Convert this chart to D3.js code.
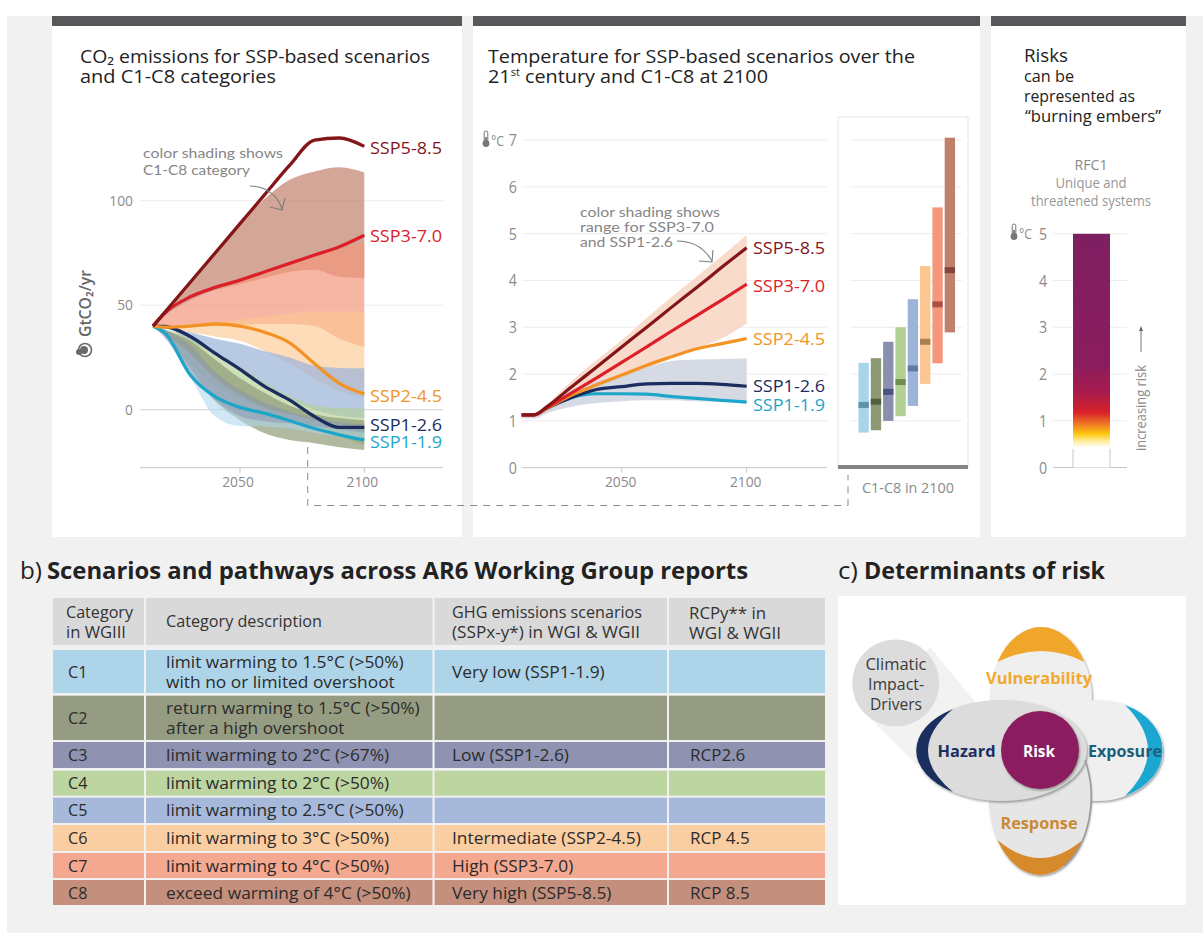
<!DOCTYPE html>
<html><head><meta charset="utf-8">
<script src="https://cdnjs.cloudflare.com/ajax/libs/d3/7.8.5/d3.min.js"></script>
<style>html,body{margin:0;padding:0;background:#fff}svg{display:block}text{font-family:"Open Sans",sans-serif}</style>
</head><body><div id="c"></div>
<script>
// ---------- data ----------
const emisYears=[2015,2020,2030,2040,2050,2060,2070,2080,2090,2100];
const ssp585=[40,47,61,75,89,103,117,129,130,126];
const ssp370=[40,46.5,54,58.5,62,66,70,74,78,83.5];
const ssp245=[40,39.5,40,41,40,37,32,22,12.6,7.5];
const ssp126=[40,39.8,35,27,19.3,11,4.6,-3.3,-8.5,-8.5];
const ssp119=[40,36.5,16.6,6.2,1.1,-1.8,-5.3,-9,-12,-14.5];
const c8Up=[40,47,61,75,89,101,110,114,116,113.5], c8Lo=[40,45,52,57,60,63,66,67,63.6,63];
const c7Up=[40,45,52,57,61,65,69,73,77,80],        c7Lo=[40,39.8,39.5,40,40.5,41,41,40,34,30];
const c6Up=[40,40,40.5,41.5,43,44.5,46,47,47,47],  c6Lo=[40,39,37,35,33,28,22,15,9,6];
const c5Up=[40,39.5,37,34,31.5,28,25,21,20,19.8],  c5Lo=[40,39,33,26,19,11.5,5,0,-3,-4];
const c4Up=[40,38.5,34,27.5,20.5,13,6.5,2,0.8,0.6],c4Lo=[40,35,22,12,5,0,-5,-9,-13,-17];
const c3Up=[40,38,31,18,9.4,3.5,-1,-4,-6,-7],      c3Lo=[40,34,17,4.6,-3,-5.5,-6.5,-8,-9.5,-11];
const c2Up=[40,38,33,24,15,8,2,-2,-4,-5],          c2Lo=[40,35,20,4,-5,-11.3,-14.5,-16,-18,-19.3];
const c1Up=[40,36,27,15,7,1,-2,-5,-7,-10],         c1Lo=[40,35,15.8,-3.3,-7.8,-8,-9,-11,-13,-15];
const tempYears=[2010,2015,2020,2030,2040,2050,2060,2070,2080,2090,2100];
const t585=[1.13,1.13,1.3,1.73,2.15,2.58,3.0,3.43,3.85,4.28,4.7];
const t370=[1.13,1.13,1.28,1.6,1.92,2.25,2.58,2.92,3.25,3.58,3.92];
const t245=[1.13,1.13,1.27,1.55,1.77,1.98,2.19,2.37,2.54,2.65,2.76];
const t126=[1.13,1.13,1.27,1.5,1.67,1.73,1.79,1.8,1.8,1.78,1.74];
const t119=[1.13,1.13,1.27,1.5,1.58,1.58,1.57,1.52,1.48,1.44,1.4];
const rangeHighUp=[1.05,1.05,1.33,1.85,2.3,2.72,3.2,3.65,4.08,4.52,4.97];
const rangeHighLo=[1.05,1.05,1.2,1.45,1.7,1.9,2.12,2.35,2.55,2.76,3.08];
const rangeLowUp=[1.13,1.13,1.28,1.66,1.85,1.98,2.14,2.28,2.31,2.32,2.33];
const rangeLowLo=[1.05,1.05,1.16,1.3,1.38,1.42,1.44,1.44,1.42,1.41,1.41];
const categories=["C1","C2","C3","C4","C5","C6","C7","C8"];
const catTop=[2.24,2.34,2.69,3.0,3.6,4.31,5.56,7.05];
const catBottom=[0.75,0.8,1.0,1.1,1.32,1.79,2.23,2.89];
const catMedian=[1.34,1.41,1.62,1.83,2.12,2.69,3.49,4.22];
const catColors=["#a9d5ec","#8c9a74","#8a8fb0","#b3d094","#9db4da","#fbc68f","#f4977c","#c0806c"];
const catMedColors=["#5f93a8","#4c5f40","#4a5480","#6f8f50","#5f7ba5","#a87f50","#a8524a","#85443e"];
const descriptions=[["limit warming to 1.5°C (>50%)","with no or limited overshoot"],["return warming to 1.5°C (>50%)","after a high overshoot"],["limit warming to 2°C (>67%)"],["limit warming to 2°C (>50%)"],["limit warming to 2.5°C (>50%)"],["limit warming to 3°C (>50%)"],["limit warming to 4°C (>50%)"],["exceed warming of 4°C (>50%)"]];
const scenarioNames=["Very low (SSP1-1.9)","","Low (SSP1-2.6)","","","Intermediate (SSP2-4.5)","High (SSP3-7.0)","Very high (SSP5-8.5)"];
const rcpNames=["","","RCP2.6","","","RCP 4.5","","RCP 8.5"];
const tableColors=["#aed4e9","#959c81","#8f93b1","#bcd5a1","#a7b9da","#fbcea2","#f4a890","#c48f7d"];
const emberLevels=[0.42,0.55,0.72,0.92,1.18,1.6,2.2,5];
const emberColors=["#ffffff","#fff0a8","#fdc80f","#f07d23","#d92029","#a81b4c","#8b1d5e","#7e1f62"];

// ---------- helpers ----------
const W=1203,H=933;
const svg=d3.select("#c").append("svg").attr("width",W).attr("height",H);
svg.append("rect").attr("x",7).attr("y",16).attr("width",W-7).attr("height",H-16).attr("fill","#f1f1f1");
function T(x,y,s,o={}){
  const t=(o.g||svg).append("text").attr("x",x).attr("y",y).text(s)
    .attr("font-size",o.size||15).attr("fill",o.fill||"#222")
    .attr("text-anchor",o.anchor||"start").attr("font-weight",o.weight||400);
  if(o.font)t.style("font-family",o.font);
  if(o.w)t.attr("textLength",o.w).attr("lengthAdjust","spacingAndGlyphs");
  if(o.k){const n=t.node().getComputedTextLength();t.attr("textLength",n*o.k).attr("lengthAdjust","spacingAndGlyphs");}
  if(o.rot)t.attr("transform",`rotate(${o.rot} ${x} ${y})`);
  return t;
}
[[52,462],[473,980],[991,1186]].forEach(([a,b])=>{
  svg.append("rect").attr("x",a).attr("y",16).attr("width",b-a).attr("height",521).attr("fill","#fff");
  svg.append("rect").attr("x",a).attr("y",16).attr("width",b-a).attr("height",10).attr("fill","#58585b");
});
const GREY="#8b8b8b", GRID="#ececec", AX="#c4c4c4";
function thermo(x,y){
  const g=svg.append("g").attr("transform",`translate(${x},${y})`);
  g.append("rect").attr("x",-1.8).attr("y",-9).attr("width",3.6).attr("height",11).attr("rx",1.8).attr("fill","#fff").attr("stroke","#777").attr("stroke-width",1);
  g.append("circle").attr("cx",0).attr("cy",3.5).attr("r",3.4).attr("fill","#777");
  g.append("rect").attr("x",-0.9).attr("y",-3).attr("width",1.8).attr("height",5).attr("fill","#777");
}
function arrow(path,head){
  svg.append("path").attr("d",path).attr("fill","none").attr("stroke","#7d7d7d").attr("stroke-width",1.1);
  svg.append("path").attr("d",head).attr("fill","none").attr("stroke","#7d7d7d").attr("stroke-width",1.1);
}
const HAND='Lato,"Open Sans",sans-serif';

// ---------- titles ----------
T(80,63,"CO₂ emissions for SSP-based scenarios",{size:18,w:350});
T(80,83,"and C1-C8 categories",{size:18,w:196});
T(488,63,"Temperature for SSP-based scenarios over the",{size:18,w:427});
const t21=svg.append("text").attr("x",488).attr("y",83).attr("font-size",18).attr("fill","#222")
  .attr("textLength",280).attr("lengthAdjust","spacingAndGlyphs");
t21.append("tspan").text("21");
t21.append("tspan").attr("dy",-7).attr("font-size",10).text("st");
t21.append("tspan").attr("dy",7).text(" century and C1-C8 at 2100");
T(1024,62,"Risks",{size:17.5,w:44});
T(1024,82,"can be",{size:16.5,w:50});
T(1024,102,"represented as",{size:16.5,w:111});
T(1025,122,"“burning embers”",{size:16.5,w:136});

// ---------- panel a: emissions ----------
const xE=d3.scaleLinear().domain([2050,2100]).range([240,364.3]);
const yE=d3.scaleLinear().domain([0,100]).range([409.7,200.7]);
const yEBase=467.7;
svg.selectAll(".ge").data([100,50,0]).join("line").attr("x1",140).attr("x2",443)
  .attr("y1",d=>yE(d)).attr("y2",d=>yE(d)).attr("stroke",d=>d===0?"#d2d2d2":GRID);
svg.append("line").attr("x1",140).attr("x2",443).attr("y1",yEBase).attr("y2",yEBase).attr("stroke",AX);
[100,50,0].forEach(d=>T(133,yE(d)+5,d,{anchor:"end",fill:GREY,size:15,k:.92}));
[2050,2100].forEach(d=>{
  svg.append("line").attr("x1",xE(d)).attr("x2",xE(d)).attr("y1",yEBase).attr("y2",yEBase+5).attr("stroke",AX);
  T(xE(d)-2,487,d,{anchor:"middle",fill:GREY,size:15,k:.92});
});
const idxE=emisYears.map((_,i)=>i);
const areaE=(u,l)=>d3.area().x(i=>xE(emisYears[i])).y0(i=>yE(l[i])).y1(i=>yE(u[i])).curve(d3.curveMonotoneX)(idxE);
[[c8Up,c8Lo,7,.7],[c7Up,c7Lo,6,.7],[c6Up,c6Lo,5,.62],[c5Up,c5Lo,4,.72],[c4Up,c4Lo,3,.65],[c2Up,c2Lo,1,.68],[c1Up,c1Lo,0,.55],[c3Up,c3Lo,2,.5]]
 .forEach(([u,l,c,op])=>svg.append("path").attr("d",areaE(u,l)).attr("fill",catColors[c]).attr("fill-opacity",op));
const lineE=d3.line().x((d,i)=>xE(emisYears[i])).y(d=>yE(d)).curve(d3.curveMonotoneX);
const lines=[[ssp119,"#1ea6c9","SSP1-1.9"],[ssp126,"#1b2d5e","SSP1-2.6"],[ssp245,"#f39325","SSP2-4.5"],[ssp370,"#dd2027","SSP3-7.0"],[ssp585,"#84161a","SSP5-8.5"]];
lines.forEach(([v,c])=>svg.append("path").attr("d",lineE(v)).attr("fill","none").attr("stroke",c).attr("stroke-width",3.3).attr("stroke-linejoin","round"));
const labE={"SSP5-8.5":154,"SSP3-7.0":242,"SSP2-4.5":402,"SSP1-2.6":431,"SSP1-1.9":448};
lines.forEach(([v,c,n])=>T(370,labE[n],n,{fill:c,size:16,w:72}));
T(143,158,"color shading shows",{fill:"#868686",size:13.5,w:140,font:HAND});
T(143,175,"C1-C8 category",{fill:"#868686",size:13.5,w:107,font:HAND});
arrow("M250,186 C266,186 278,196 282,209","M270,207 L282,210 L285,198");
T(91,337,"GtCO₂/yr",{fill:"#666",size:16,weight:600,rot:-90,w:67});
const ic=svg.append("g").attr("transform","translate(83,350)");
ic.append("circle").attr("cx",2).attr("cy",0).attr("r",6.5).attr("fill","#fff").attr("stroke","#6a6a6a").attr("stroke-width",1.6);
ic.append("circle").attr("cx",1).attr("cy",0).attr("r",4).attr("fill","#6a6a6a");
ic.append("circle").attr("cx",-4).attr("cy",2).attr("r",3).attr("fill","#6a6a6a");
svg.append("path").attr("d","M307.7,447 V505.5 H848 V475").attr("fill","none").attr("stroke","#8a8a8a").attr("stroke-width",1).attr("stroke-dasharray","7 6");

// ---------- panel a: temperature ----------
const xT=d3.scaleLinear().domain([2050,2100]).range([621.7,746.7]);
const yT=d3.scaleLinear().domain([0,7]).range([467.7,140]);
d3.range(1,8).forEach(d=>svg.append("line").attr("x1",522).attr("x2",827).attr("y1",yT(d)).attr("y2",yT(d)).attr("stroke",GRID));
svg.append("line").attr("x1",522).attr("x2",827).attr("y1",yT(0)).attr("y2",yT(0)).attr("stroke",AX);
d3.range(0,8).forEach(d=>T(517,yT(d)+6,d,{anchor:"end",fill:GREY,size:15.5,k:.92}));
thermo(486,140); T(491,146,"°C",{fill:GREY,size:14,w:13});
[2050,2100].forEach(d=>{
  svg.append("line").attr("x1",xT(d)).attr("x2",xT(d)).attr("y1",yT(0)).attr("y2",yT(0)+5).attr("stroke",AX);
  T(xT(d)-1,487,d,{anchor:"middle",fill:GREY,size:15,k:.92});
});
const idxT=tempYears.map((_,i)=>i);
const areaT=(u,l)=>d3.area().x(i=>xT(tempYears[i])).y0(i=>yT(l[i])).y1(i=>yT(u[i])).curve(d3.curveMonotoneX)(idxT);
svg.append("path").attr("d",areaT(rangeHighUp,rangeHighLo)).attr("fill","#f8d5c3").attr("fill-opacity",.85);
svg.append("path").attr("d",areaT(rangeLowUp,rangeLowLo)).attr("fill","#cfd4e1").attr("fill-opacity",.85);
const lineT=d3.line().x((d,i)=>xT(tempYears[i])).y(d=>yT(d)).curve(d3.curveMonotoneX);
const tLines=[[t119,"#1ea6c9","SSP1-1.9",411],[t126,"#1b2d5e","SSP1-2.6",392],[t245,"#f39325","SSP2-4.5",345],[t370,"#dd2027","SSP3-7.0",292],[t585,"#84161a","SSP5-8.5",254]];
tLines.forEach(([v,c])=>svg.append("path").attr("d",lineT(v)).attr("fill","none").attr("stroke",c).attr("stroke-width",3.2));
tLines.forEach(([v,c,n,y])=>T(753,y,n,{fill:c,size:16,w:72}));
T(580,217,"color shading shows",{fill:"#868686",size:13.5,w:140,font:HAND});
T(580,232,"range for SSP3-7.0",{fill:"#868686",size:13.5,w:134,font:HAND});
T(580,247,"and SSP1-2.6",{fill:"#868686",size:13.5,w:93,font:HAND});
arrow("M677,241 C695,241 705,249 712,261","M699,261 L712,262 L713,250");

// C1-C8 card
svg.append("rect").attr("x",838).attr("y",117).attr("width",130).attr("height",350).attr("fill","#fff").attr("stroke","#eeeeee").attr("stroke-width",1.5);
d3.range(1,8).forEach(d=>svg.append("line").attr("x1",850).attr("x2",962).attr("y1",yT(d)).attr("y2",yT(d)).attr("stroke",GRID));
const xC=d3.scaleBand().domain(categories).range([856.5,957]).padding(0.16);
svg.selectAll(".bar").data(categories).join("rect").attr("x",d=>xC(d)).attr("width",xC.bandwidth())
  .attr("y",(d,i)=>yT(catTop[i])).attr("height",(d,i)=>yT(catBottom[i])-yT(catTop[i])).attr("fill",(d,i)=>catColors[i]);
svg.selectAll(".med").data(categories).join("rect").attr("x",d=>xC(d)).attr("width",xC.bandwidth())
  .attr("y",(d,i)=>yT(catMedian[i])-3).attr("height",6).attr("fill",(d,i)=>catMedColors[i]);
svg.append("rect").attr("x",838).attr("y",465).attr("width",130).attr("height",4).attr("fill","#858585");
T(862,493,"C1-C8 in 2100",{fill:GREY,size:15,w:92});

// ---------- embers ----------
const yR=d3.scaleLinear().domain([0,5]).range([467.5,233.8]);
T(1091,170,"RFC1",{anchor:"middle",fill:"#8a8a8a",size:15,w:33});
T(1091,188,"Unique and",{anchor:"middle",fill:"#979797",size:14.5,w:71});
T(1091,206,"threatened systems",{anchor:"middle",fill:"#979797",size:14.5,w:120});
d3.range(0,6).forEach(d=>{
  svg.append("line").attr("x1",1053).attr("x2",1127).attr("y1",yR(d)).attr("y2",yR(d)).attr("stroke",d?GRID:AX);
  T(1043,yR(d)+6,d,{anchor:"middle",fill:GREY,size:15.5,k:.92});
});
thermo(1014,233); T(1019,239,"°C",{fill:GREY,size:14,w:13});
const defs=svg.append("defs");
const grad=defs.append("linearGradient").attr("id","ember").attr("gradientUnits","userSpaceOnUse")
  .attr("x1",0).attr("x2",0).attr("y1",yR(0)).attr("y2",yR(5));
emberLevels.forEach((v,i)=>grad.append("stop").attr("offset",v/5).attr("stop-color",emberColors[i]));
svg.append("rect").attr("x",1073).attr("width",37).attr("y",yR(5)).attr("height",yR(0)-yR(5)).attr("fill","url(#ember)");
svg.append("path").attr("d",`M1073,${yR(.4)} V${yR(0)} M1110,${yR(.4)} V${yR(0)}`).attr("stroke","#c9c9c9").attr("fill","none");
T(1146,451,"increasing risk",{fill:GREY,size:14,rot:-90,w:86});
svg.append("line").attr("x1",1141).attr("x2",1141).attr("y1",352).attr("y2",328).attr("stroke","#777");
svg.append("path").attr("d","M1139,331 L1141,326 L1143,331 Z").attr("fill","#666");

// ---------- panel b ----------
T(20,579,"b)",{size:23,w:22,fill:"#222"});
T(47,579,"Scenarios and pathways across AR6 Working Group reports",{size:23,weight:700,w:701});
const colEdges=[[53,144],[146,432.5],[434.6,667],[669,825]];
const rowEdges=[[650,693],[695.7,740],[742,768],[770.7,795.7],[797.7,823],[825,851],[853,878],[880,905]];
colEdges.forEach(([a,b])=>svg.append("rect").attr("x",a).attr("width",b-a).attr("y",598).attr("height",47).attr("fill","#d9d9d9"));
const ts=17, hs=16.5;
T(66,618,"Category",{size:hs,fill:"#333",w:67});T(66,638,"in WGIII",{size:hs,fill:"#333",w:60});
T(166,627,"Category description",{size:hs,fill:"#333",w:156});
T(452,618,"GHG emissions scenarios",{size:hs,fill:"#333",w:190});T(452,638,"(SSPx-y*) in WGI & WGII",{size:hs,fill:"#333",w:188});
T(689,619,"RCPy** in",{size:hs,fill:"#333",w:77});T(689,639,"WGI & WGII",{size:hs,fill:"#333",w:92});
categories.forEach((c,i)=>{
  const [a,b]=rowEdges[i], mid=(a+b)/2;
  colEdges.forEach(([l,r])=>svg.append("rect").attr("x",l).attr("width",r-l).attr("y",a).attr("height",b-a).attr("fill",tableColors[i]));
  T(68,mid+6,c,{size:ts,fill:"#2b2b2b",k:.95});
  const d=descriptions[i];
  if(d.length===1)T(166,mid+6,d[0],{size:ts,fill:"#2b2b2b",k:1.02});
  else{T(166,mid-4,d[0],{size:ts,fill:"#2b2b2b",k:1.02});T(166,mid+16,d[1],{size:ts,fill:"#2b2b2b",k:1.02});}
  if(scenarioNames[i])T(452,mid+6,scenarioNames[i],{size:ts,fill:"#2b2b2b",k:1.02});
  if(rcpNames[i])T(690,mid+6,rcpNames[i],{size:ts,fill:"#2b2b2b",k:1.0});
});

// ---------- panel c ----------
T(838,579,"c)",{size:23,w:20});
T(864,579,"Determinants of risk",{size:23,weight:700,w:241});
svg.append("rect").attr("x",838).attr("y",596).attr("width",348).attr("height",309).attr("fill","#fff");
const df=defs.append("filter").attr("id","sh").attr("x","-20%").attr("y","-20%").attr("width","140%").attr("height","140%");
df.append("feDropShadow").attr("dx",1).attr("dy",1.5).attr("stdDeviation",1).attr("flood-color","#666").attr("flood-opacity",.65);
const ell=(cx,cy,rx,ry,fill)=>svg.append("ellipse").attr("cx",cx).attr("cy",cy).attr("rx",rx).attr("ry",ry).attr("fill",fill).attr("filter","url(#sh)");
const cres=(d,fill)=>svg.append("path").attr("d",d).attr("fill",fill);
svg.append("path").attr("d","M930,647 L975,702 L917,765 L870,718 Z").attr("fill","#f2f2f2");
svg.append("circle").attr("cx",895.7).attr("cy",683).attr("r",43.5).attr("fill","#dcdcdc");
T(896,670,"Climatic",{anchor:"middle",size:16,fill:"#3a3a3a",w:61});
T(896,690,"Impact-",{anchor:"middle",size:16,fill:"#3a3a3a",w:56});
T(896,710,"Drivers",{anchor:"middle",size:16,fill:"#3a3a3a",w:52});
ell(1041,700,51,73,"#efefef");
cres("M997.5,662 A51,73 0 0 1 1084.5,662 Q1041,640 997.5,662 Z","#f0a62a");
ell(1096.5,750.5,66.5,50.5,"#efefef");
cres("M1125,705 A66.5,50.5 0 0 1 1125,796 Q1171,750.5 1125,705 Z","#1ba7d1");
ell(1040,797,51,78,"#e6e6e6");
cres("M997.5,840 A51,78 0 0 0 1082.5,840 Q1040,876 997.5,840 Z","#d68a2b");
ell(1001.5,750.5,85.5,50.5,"#dcdcdc");
cres("M953,709 A85.5,50.5 0 0 0 953,792 Q903,750.5 953,709 Z","#1b2f5f");
svg.append("path").attr("d","M1085,760 A51,78 0 0 1 1064,866").attr("fill","none").attr("stroke","#9d9d9d").attr("stroke-width",1.6);
svg.append("circle").attr("cx",1040).attr("cy",750).attr("r",39).attr("fill","#8b1a5e").attr("filter","url(#sh)");
T(1039,757,"Risk",{anchor:"middle",size:16,weight:700,fill:"#fff",w:32});
T(966.5,757,"Hazard",{anchor:"middle",size:16,weight:700,fill:"#1d2f60",w:58});
T(1125,757,"Exposure",{anchor:"middle",size:16,weight:700,fill:"#1c5f7c",w:74});
T(1039,684,"Vulnerability",{anchor:"middle",size:16,weight:700,fill:"#f2a92c",w:106});
T(1039,829,"Response",{anchor:"middle",size:16,weight:700,fill:"#c98a33",w:77});
</script></body></html>
